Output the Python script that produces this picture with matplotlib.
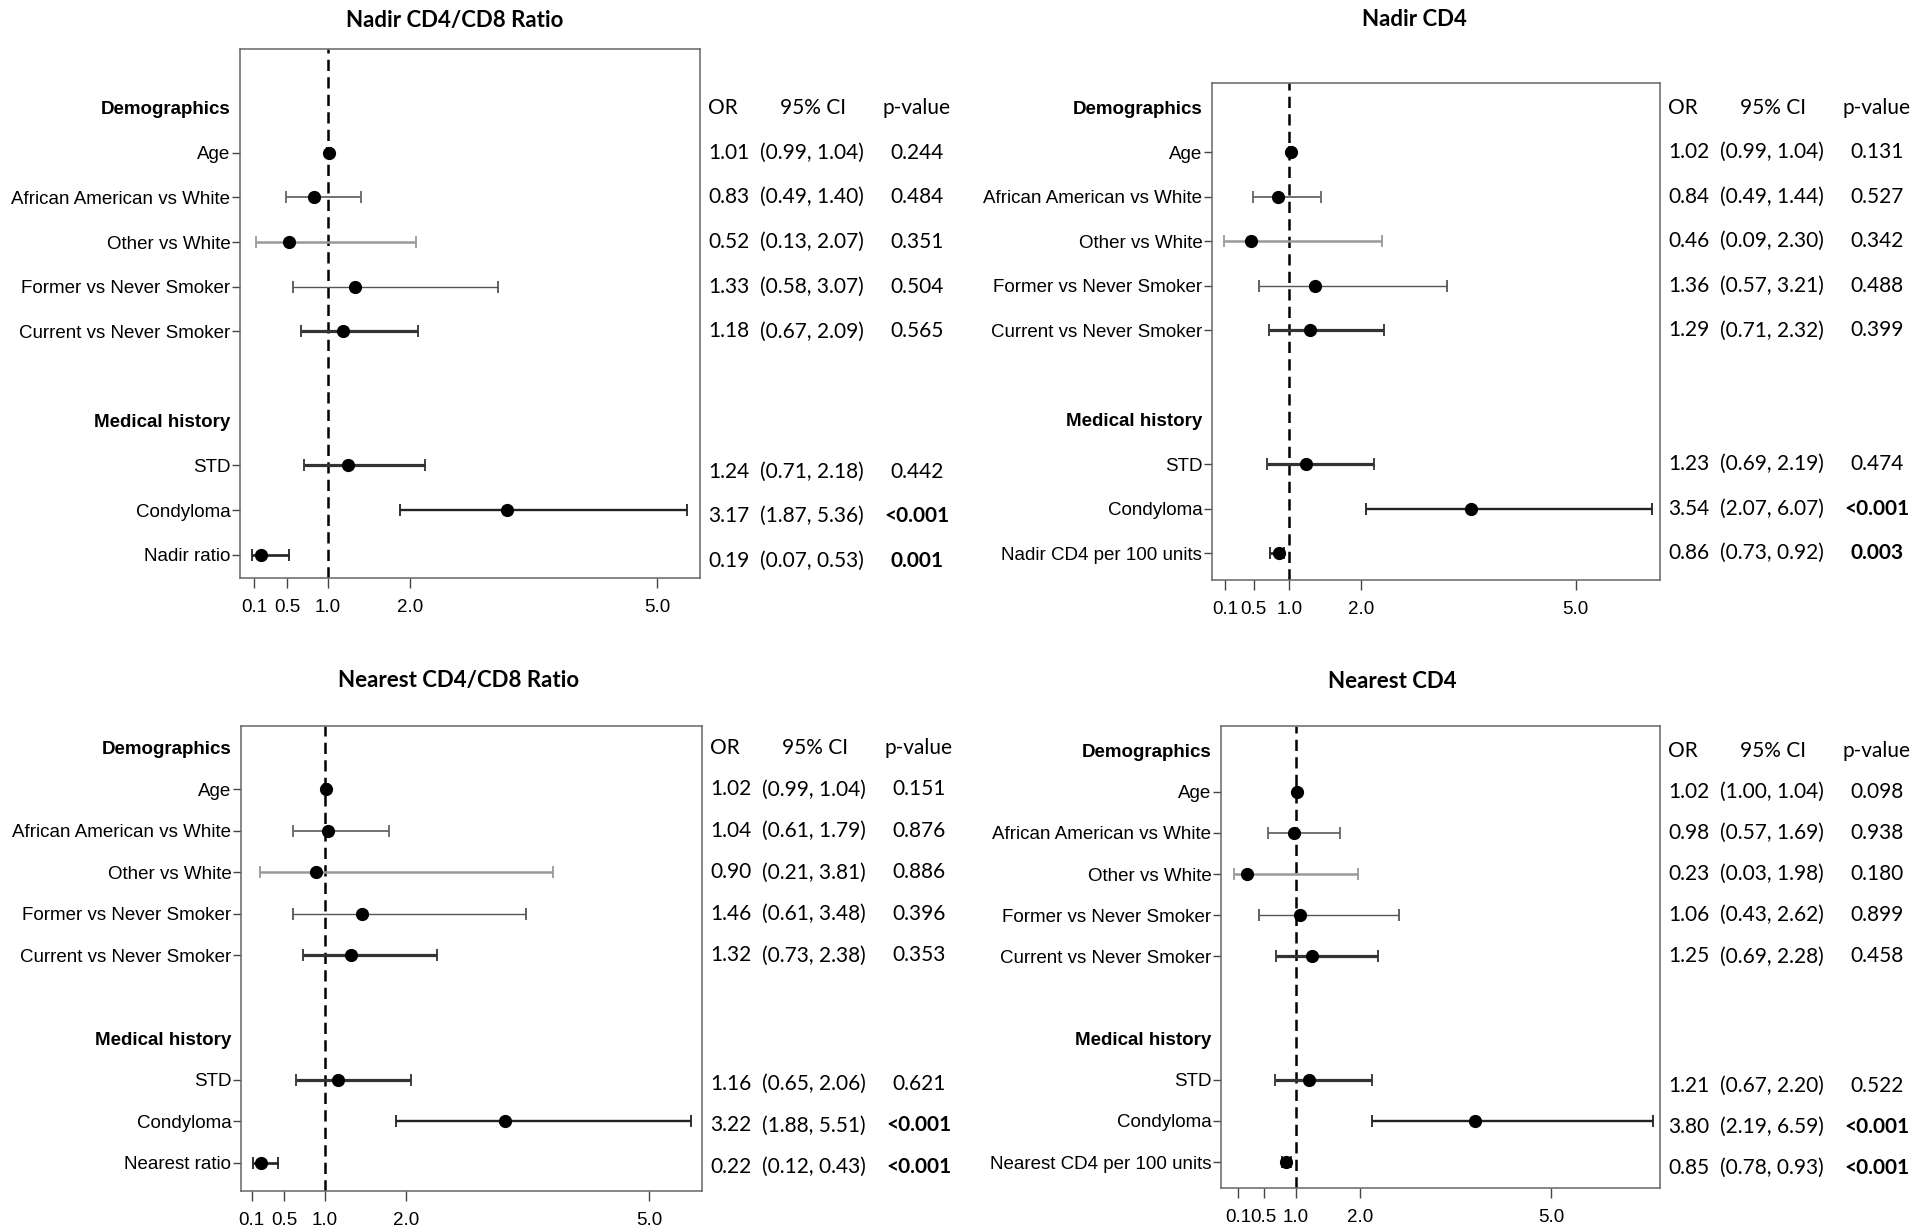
"""
Forest plots of odds ratios for four CD4 / CD4:CD8 measures.
"""
import matplotlib
matplotlib.use("Agg")
import matplotlib.pyplot as plt
import matplotlib.transforms as mtransforms
import numpy as np

###############################################################################
# Data.

titles = ["Nadir CD4/CD8 Ratio", "Nadir CD4", "Nearest CD4/CD8 Ratio", "Nearest CD4"]

rows = ["Demographics", "Age", "African American vs White", "Other vs White",
        "Former vs Never Smoker", "Current vs Never Smoker", "",
        "Medical history", "STD", "Condyloma"]
header_rows = ["Demographics", "Medical history"]
last_rows = ["Nadir ratio", "Nadir CD4 per 100 units",
             "Nearest ratio", "Nearest CD4 per 100 units"]

or_nadir_ratio = [1.01, 0.83, 0.52, 1.33, 1.18, 1.24, 3.17, 0.19]
lo_nadir_ratio = [0.99, 0.49, 0.13, 0.58, 0.67, 0.71, 1.87, 0.07]
hi_nadir_ratio = [1.04, 1.40, 2.07, 3.07, 2.09, 2.18, 5.36, 0.53]
p_nadir_ratio = ["0.244", "0.484", "0.351", "0.504", "0.565", "0.442", "<0.001", "0.001"]

or_nadir_cd4 = [1.02, 0.84, 0.46, 1.36, 1.29, 1.23, 3.54, 0.86]
lo_nadir_cd4 = [0.99, 0.49, 0.09, 0.57, 0.71, 0.69, 2.07, 0.73]
hi_nadir_cd4 = [1.04, 1.44, 2.30, 3.21, 2.32, 2.19, 6.07, 0.92]
p_nadir_cd4 = ["0.131", "0.527", "0.342", "0.488", "0.399", "0.474", "<0.001", "0.003"]

or_nearest_ratio = [1.02, 1.04, 0.90, 1.46, 1.32, 1.16, 3.22, 0.22]
lo_nearest_ratio = [0.99, 0.61, 0.21, 0.61, 0.73, 0.65, 1.88, 0.12]
hi_nearest_ratio = [1.04, 1.79, 3.81, 3.48, 2.38, 2.06, 5.51, 0.43]
p_nearest_ratio = ["0.151", "0.876", "0.886", "0.396", "0.353", "0.621", "<0.001", "<0.001"]

or_nearest_cd4 = [1.02, 0.98, 0.23, 1.06, 1.25, 1.21, 3.80, 0.85]
lo_nearest_cd4 = [1.00, 0.57, 0.03, 0.43, 0.69, 0.67, 2.19, 0.78]
hi_nearest_cd4 = [1.04, 1.69, 1.98, 2.62, 2.28, 2.20, 6.59, 0.93]
p_nearest_cd4 = ["0.098", "0.938", "0.180", "0.899", "0.458", "0.522", "<0.001", "<0.001"]

xticks = [0.1, 0.5, 1.0, 2.0, 5.0]

panels = [
    (or_nadir_ratio, lo_nadir_ratio, hi_nadir_ratio, p_nadir_ratio),
    (or_nadir_cd4, lo_nadir_cd4, hi_nadir_cd4, p_nadir_cd4),
    (or_nearest_ratio, lo_nearest_ratio, hi_nearest_ratio, p_nearest_ratio),
    (or_nearest_cd4, lo_nearest_cd4, hi_nearest_cd4, p_nearest_cd4),
]

###############################################################################
# Layout (pixels of the 1920x1226 canvas) and styles.

W, H = 1920, 1226
# left, right, top, bottom of each plotting box
boxes = [(240, 700, 49, 578), (1212, 1660, 83, 580),
         (241, 702, 726, 1191), (1221, 1660, 726, 1188)]
xlims = [(-0.07, 5.52), (-0.08, 6.18), (-0.03, 5.65), (-0.17, 6.70)]
ylims = [(10.52, -1.32), (10.6, -0.55), (10.68, -0.53), (10.63, -0.6)]
title_pos = [(455, 20), (1414, 20), (459, 681), (1392, 681)]
med_shift = [0.14, 0.0, 0.1, 0.14]

bar_colors = ['#222222', '#666666', '#999999', '#555555',
              '#333333', '#333333', '#222222', '#222222']
bar_widths = [1.6, 1.3, 1.8, 1.0, 2.3, 2.3, 1.7, 1.9]

narrow = ['Liberation Sans Narrow', 'DejaVu Sans Condensed', 'Liberation Sans']
table_font = ['Lato', 'DejaVu Sans']
tfs = 15

fig = plt.figure(figsize=(W / 100, H / 100), dpi=100)

for i, (odds, lo, hi, pvals) in enumerate(panels):
    left, right, top, bottom = boxes[i]
    ax = fig.add_axes([left / W, 1 - bottom / H, (right - left) / W, (bottom - top) / H])
    labels = rows + [last_rows[i]]
    ypos = [1, 2, 3, 4, 5, 8, 9, 10]

    ax.axvline(1.0, color='black', lw=1.8, ls=(0, (4.5, 2.5)), zorder=1)
    for k in range(len(odds)):
        err = [[odds[k] - lo[k]], [hi[k] - odds[k]]]
        ax.errorbar(odds[k], ypos[k], xerr=err, fmt='none', ecolor=bar_colors[k],
                    elinewidth=bar_widths[k], capsize=4, capthick=1.3, zorder=2)
    ax.plot(odds, ypos, 'o', color='black', markersize=8.5, zorder=3)

    ax.set_xlim(*xlims[i])
    ax.set_ylim(*ylims[i])
    ax.set_xticks(xticks)
    ax.set_xticklabels([f'{t:.1f}' for t in xticks], family=narrow, fontsize=13.5)
    ax.set_yticks(range(len(labels)))
    ax.set_yticklabels(labels, family=narrow, fontsize=13.5)
    ax.tick_params(axis='y', length=6, width=1, color='#444444', pad=1)
    ax.tick_params(axis='x', length=7, width=1, color='#444444', pad=8)
    for j, lab in enumerate(labels):
        tick = ax.yaxis.get_major_ticks()[j]
        if lab in header_rows or lab == "":
            tick.tick1line.set_visible(False)
        if lab in header_rows:
            tick.label1.set_fontweight('bold')
    for s in ax.spines.values():
        s.set_color('#666666')
        s.set_linewidth(1.1)

    # table to the right of the box
    trans = mtransforms.blended_transform_factory(fig.transFigure, ax.transData)
    x_or = (right + 8) / W
    x_ci = (right + 60) / W
    x_cih = (right + 113) / W
    x_p = (right + 217) / W
    ax.text(x_or, 0, 'OR', transform=trans, ha='left', va='center',
            family=table_font, fontsize=tfs)
    ax.text(x_cih, 0, '95% CI', transform=trans, ha='center', va='center',
            family=table_font, fontsize=tfs)
    ax.text(x_p, 0, 'p-value', transform=trans, ha='center', va='center',
            family=table_font, fontsize=tfs)
    for k in range(len(odds)):
        y = ypos[k] + (med_shift[i] if ypos[k] > 6 else 0)
        ax.text(x_or, y, f'{odds[k]:.2f}', transform=trans, ha='left', va='center',
                family=table_font, fontsize=tfs)
        ax.text(x_ci, y, f'({lo[k]:.2f}, {hi[k]:.2f})', transform=trans, ha='left',
                va='center', family=table_font, fontsize=tfs)
        sig = pvals[k].startswith('<') or float(pvals[k]) < 0.05
        ax.text(x_p, y, pvals[k], transform=trans, ha='center', va='center',
                family=table_font, fontsize=tfs,
                fontweight='bold' if sig else 'normal')

    tx, ty = title_pos[i]
    fig.text(tx / W, 1 - ty / H, titles[i], ha='center', va='center',
             family=table_font, fontsize=16, fontweight='bold')

fig.savefig('out.png', dpi=100, facecolor='white')
